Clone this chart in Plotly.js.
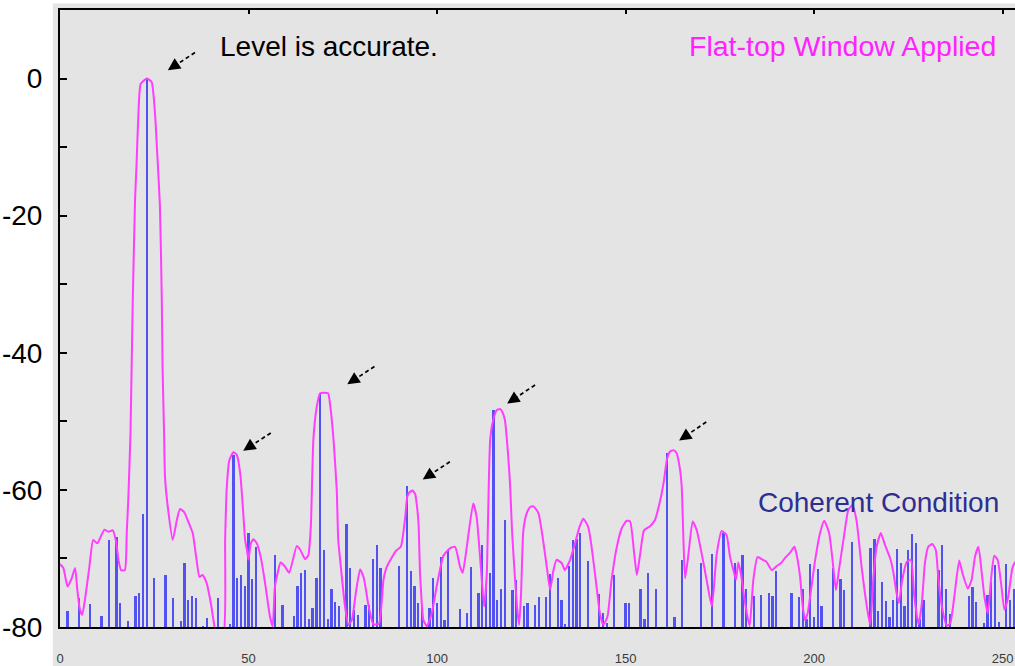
<!DOCTYPE html>
<html>
<head>
<meta charset="utf-8">
<script src="https://cdn.plot.ly/plotly-3.0.1.min.js"></script>
<style>html,body{margin:0;padding:0;background:#fff;}#chart{width:1015px;height:666px;}</style>
</head>
<body>
<div id="chart"></div>
<script>
// Coherent-condition spectrum: FFT bin index and level (dB)
const barBins = [2,5,8,11,13,15,16,18,20,21,22,23,25,28,30,32,33,34,35,36,38,39,42,45,46,47,48,49,50,51,52,57,
  59,62,63,64,65,66,67,68,69,70,71,72,73,74,76,77,78,79,81,82,83,84,85,90,92,93,94,95,96,98,99,100,101,102,103,
  106,108,109,111,112,113,114,115,116,117,118,120,121,123,124,126,127,129,130,132,133,134,135,136,137,138,140,
  143,144,145,147,150,151,154,155,156,158,161,163,165,170,173,176,179,181,182,184,186,188,189,190,194,196,197,
  198,199,200,201,202,205,207,208,210,215,216,217,218,219,220,221,222,223,224,225,226,227,228,229,233,234,235,
  236,241,242,243,245,246,247,248,249,251,252,253];
const barLevels = [-77.6,-75.8,-76.7,-78.4,-67.3,-66.9,-76.5,-79.1,-75.5,-75.1,-63.5,0,-72.8,-72.4,-75.8,-79.1,-70.6,-76.1,-75.5,-75.8,-79.8,-78.7,-75.7,-79.6,-54.9,-72.9,-72.4,-74.0,-66.3,-73.0,-68.4,-69.5,
  -76.8,-78.4,-74.0,-72.1,-71.7,-78.9,-77.3,-72.8,-45.9,-68.8,-78.9,-74.4,-76.3,-76.9,-65.0,-71.4,-77.5,-78.2,-76.8,-76.8,-70.1,-68.1,-71.4,-71.1,-59.5,-71.8,-74.0,-76.5,-77.0,-77.3,-72.8,-76.5,-69.8,-79.0,-68.7,
  -77.4,-77.9,-71.2,-75.1,-68.0,-73.9,-72.1,-48.3,-76.1,-74.4,-64.4,-74.6,-73.2,-76.9,-76.5,-76.8,-75.6,-75.6,-72.2,-72.8,-76.1,-79.6,-71.1,-67.3,-67.2,-66.3,-70.3,
  -75.2,-78.0,-79.4,-72.4,-76.5,-76.5,-74.5,-78.9,-72.1,-74.4,-54.6,-78.5,-70.2,-70.7,-69.4,-66.3,-70.7,-69.5,-74.4,-75.5,-75.3,-75.1,-75.5,-71.9,-75.1,-75.6,-74.4,
  -78.9,-70.8,-78.6,-71.6,-76.9,-71.4,-73.0,-74.6,-67.6,-68.5,-67.2,-77.6,-73.4,-76.2,-78.6,-76.1,-68.6,-70.7,-77.0,-68.8,-66.4,-67.8,-78.9,-76.1,-71.7,-68.0,-74.4,
  -78.1,-75.5,-74.1,-76.3,-79.4,-75.3,-73.4,-71.0,-79.2,-70.8,-76.0,-74.5];

// Flat-top window spectrum
const curveX = [0.0,0.9,2.0,3.1,4.0,4.6,5.3,5.9,6.6,7.8,8.8,9.9,10.9,11.8,12.8,14.0,14.9,15.5,16.2,17.2,17.7,18.1,18.7,19.0,19.3,19.9,20.3,20.8,21.4,23.0,24.3,25.2,25.7,26.5,27.0,27.2,27.6,27.85,
  28.7,29.9,31.0,31.8,32.9,34.0,35.2,36.1,37.0,37.8,38.9,40.0,40.9,41.4,43.3,43.8,44.2,44.9,46.0,46.9,47.8,48.5,49.1,49.5,50.0,50.6,51.3,52.2,53.2,54.4,55.7,56.4,57.0,57.7,58.5,59.7,60.8,
  62.8,63.8,65.0,65.9,66.3,66.6,67.2,68.1,69.0,71.1,71.6,72.5,73.4,73.8,74.3,75.6,76.5,77.4,78.5,79.6,80.6,81.8,83.1,84.6,85.8,86.7,89.1,90.4,91.5,92.1,92.6,93.5,94.2,94.6,95.1,95.5,96.4,97.3,
  98.6,99.9,101.7,103.5,104.8,106.1,106.8,107.9,109.6,110.5,111.4,112.5,113.2,113.5,114.1,114.9,115.8,116.7,117.3,118.0,118.9,119.4,119.9,120.7,121.3,121.8,122.3,122.9,123.8,124.7,125.6,126.9,
  128.2,129.1,130.0,130.9,131.7,133.1,133.9,135.3,136.6,137.8,138.8,140.1,141.0,142.2,143.2,144.1,145.2,146.3,147.7,149.0,150.3,151.2,152.3,153.0,153.9,154.9,156.5,157.8,159.2,160.2,161.0,161.8,
  162.7,163.5,164.3,164.9,165.3,165.8,166.7,167.8,168.9,170.2,171.5,172.9,174.2,175.5,176.8,177.7,178.6,179.3,179.9,180.6,181.7,182.9,183.9,185.0,186.4,187.4,188.8,190.1,191.2,192.5,193.6,194.8,
  195.4,196.3,196.9,197.6,198.3,199.2,200.3,201.6,202.7,204.0,204.9,205.8,206.6,207.8,209.1,210.2,211.3,212.6,214.0,214.9,215.7,216.6,217.7,218.8,220.2,221.0,221.9,222.5,223.4,224.6,225.7,226.6,
  227.7,228.6,229.4,230.3,231.4,232.3,233.0,233.9,235.2,236.1,237.2,238.5,239.4,240.8,241.8,242.7,243.6,244.5,245.2,246.1,247.0,247.8,248.7,249.6,250.5,251.5,252.6,253.3];
const curveLevels = [-70.8,-71.4,-74.1,-72.9,-71.4,-74.6,-77.5,-78.2,-76.1,-71.2,-67.3,-67.8,-66.7,-65.8,-66.1,-65.9,-67.6,-70.2,-71.7,-71.7,-66.3,-61.5,-51.7,-42.0,-32.3,-17.8,-12.5,-5.1,-0.8,0,-0.5,-5.1,-10.0,-18.5,-32.3,-42.0,-51.7,-58.1,
  -63.0,-67.3,-64.4,-62.8,-63.2,-64.6,-66.3,-69.7,-72.7,-72.4,-73.6,-76.5,-79.7,-81,-81,-67.3,-60.0,-55.7,-54.5,-54.9,-57.6,-62.5,-67.3,-68.5,-70.2,-67.8,-67.2,-67.8,-69.7,-73.6,-78.5,-79.9,-74.1,-72.2,-70.6,-71.2,-72.1,
  -68.2,-68.8,-70.1,-69.5,-67.3,-64.4,-52.7,-47.9,-45.9,-45.9,-47.4,-52.3,-60.0,-67.3,-70.2,-77.0,-79.7,-79.0,-74.9,-71.6,-72.9,-76.8,-79.6,-79.5,-73.1,-71.2,-68.9,-68.3,-64.3,-61.0,-60.4,-60.1,-60.6,-62.0,-64.9,-72.2,-79.0,-79.9,
  -78.0,-74.1,-69.6,-68.5,-68.3,-71.2,-72.1,-68.3,-62.0,-63.9,-69.7,-77.0,-72.2,-65.0,-52.7,-49.8,-48.4,-48.2,-48.6,-49.8,-55.2,-59.5,-66.0,-73.1,-77.5,-79.7,-75.0,-65.9,-63.4,-62.5,-62.4,-63.4,
  -67.6,-71.2,-74.6,-71.7,-70.2,-70.7,-71.7,-70.2,-67.8,-65.4,-64.2,-65.4,-68.3,-73.6,-78.0,-79.7,-78.5,-73.1,-68.3,-65.6,-64.5,-64.6,-69.3,-72.4,-69.3,-65.9,-65.3,-64.4,-61.5,-58.6,-55.5,-54.4,
  -54.2,-54.6,-56.5,-59.5,-66.3,-72.9,-69.3,-64.6,-65.9,-69.3,-73.1,-77.0,-69.3,-66.0,-66.6,-69.7,-71.7,-73.1,-70.6,-72.2,-76.5,-79.9,-73.1,-69.8,-70.2,-70.5,-71.7,-71.1,-70.7,-69.8,-69.2,-68.3,
  -69.5,-72.7,-76.5,-79.0,-78.0,-74.6,-70.2,-66.3,-64.5,-66.3,-70.2,-74.6,-71.7,-67.3,-62.9,-62.2,-64.6,-71.2,-77.0,-79.7,-73.1,-68.3,-66.3,-68.0,-70.0,-71.9,-75.1,-76.5,-73.1,-70.5,-70.2,-75.6,
  -79.6,-76.5,-70.7,-68.3,-67.9,-68.8,-73.1,-77.0,-79.8,-79.5,-75.6,-70.3,-72.2,-74.4,-73.1,-69.7,-68.3,-72.2,-75.6,-78.0,-72.7,-69.6,-70.2,-73.6,-77.5,-75.6,-71.4,-70.5];

const yTickVals = [-80,-70,-60,-50,-40,-30,-20,-10,0];
const yTickText = ['-80','','-60','','-40','','-20','','0'];
const xTickVals = [0,50,100,150,200,250];
const xTickText = ['0','50','100','150','200','250'];

// Arrow annotations (head / tail in data units)
const arrowHeadX = [28.6,48.6,76.2,96.2,118.6,164.2];
const arrowHeadY = [1.2,-54.3,-44.6,-58.5,-47.4,-52.8];
const arrowTailX = [35.8,55.9,83.4,103.4,126.0,171.4];
const arrowTailY = [3.8,-51.7,-42.0,-55.9,-44.7,-50.1];

const FLOOR = -80;
const bg = '#e4e4e4';
const FONT = 'Liberation Sans, Arial, sans-serif';

const traces = [
  {
    type: 'bar',
    x: barBins,
    y: barLevels.map(v => v - FLOOR),
    base: FLOOR,
    width: 0.6,
    marker: {color: '#5252f0', line: {width: 0}},
    hoverinfo: 'skip',
    showlegend: false
  },
  {
    type: 'scatter',
    mode: 'lines',
    x: curveX,
    y: curveLevels,
    line: {color: '#ff3cff', width: 2, shape: 'spline', smoothing: 0.5},
    hoverinfo: 'skip',
    showlegend: false
  }
];

const shapes = [
  {type: 'rect', xref: 'paper', yref: 'paper', x0: -0.0075, x1: 1.01, y0: -0.07, y1: 1.0105,
   fillcolor: bg, line: {width: 0}, layer: 'below'}
];
const annotations = [];
for (let i = 0; i < arrowHeadX.length; i++) {
  shapes.push({type: 'line', xref: 'x', yref: 'y', x0: arrowTailX[i], y0: arrowTailY[i],
    x1: arrowHeadX[i] + (arrowTailX[i] - arrowHeadX[i]) * 0.3, y1: arrowHeadY[i] + (arrowTailY[i] - arrowHeadY[i]) * 0.3,
    line: {color: '#000', width: 1.7, dash: '4px,3px'}});
  annotations.push({x: arrowHeadX[i], y: arrowHeadY[i], xref: 'x', yref: 'y', text: '',
    showarrow: true, arrowhead: 2, arrowsize: 1.45, arrowwidth: 1.7, arrowcolor: '#000',
    ax: 10, ay: -6.7, standoff: 0});
}
annotations.push(
  {x: 41.9, y: 4.7, xref: 'x', yref: 'y', text: 'Level is accurate.', showarrow: false,
   xanchor: 'left', yanchor: 'middle', font: {family: FONT, size: 28, color: '#000'}},
  {x: 248.8, y: 4.7, xref: 'x', yref: 'y', text: 'Flat-top Window Applied', showarrow: false,
   xanchor: 'right', yanchor: 'middle', font: {family: FONT, size: 28.5, color: '#ff22ff'}},
  {x: 184.6, y: -61.9, xref: 'x', yref: 'y', text: 'Coherent Condition', showarrow: false,
   xanchor: 'left', yanchor: 'middle', font: {family: FONT, size: 28, color: '#2e2e92'}}
);

const layout = {
  width: 1015, height: 666,
  margin: {l: 60, r: 0, t: 9.5, b: 39, pad: 0},
  paper_bgcolor: '#ffffff',
  plot_bgcolor: bg,
  bargap: 0,
  xaxis: {
    range: [0, 253.3], showgrid: false, zeroline: false,
    showline: true, linecolor: '#000', linewidth: 2,
    tickmode: 'array', tickvals: xTickVals, ticktext: xTickText, ticks: '',
    ticklabelstandoff: 18,
    tickfont: {family: FONT, size: 13, color: '#3a3a3a'},
    fixedrange: true
  },
  xaxis2: {
    overlaying: 'x', side: 'top', matches: 'x', range: [0, 253.3],
    showgrid: false, zeroline: false, showline: true, linecolor: '#000', linewidth: 2,
    tickmode: 'array', tickvals: xTickVals, ticks: 'inside', ticklen: 4, tickwidth: 2, tickcolor: '#000',
    showticklabels: false
  },
  yaxis: {
    range: [-80, 10], showgrid: false, zeroline: false,
    showline: true, linecolor: '#000', linewidth: 2,
    tickmode: 'array', tickvals: yTickVals, ticktext: yTickText,
    ticks: 'inside', ticklen: 7, tickwidth: 2, tickcolor: '#000',
    ticklabelstandoff: 10,
    tickfont: {family: FONT, size: 28, color: '#000'},
    fixedrange: true
  },
  shapes: shapes,
  annotations: annotations
};

// invisible point to activate the top (mirror) axis
traces.push({type: 'scatter', x: [0], y: [-200], xaxis: 'x2', mode: 'markers', marker: {opacity: 0}, hoverinfo: 'skip', showlegend: false});

Plotly.newPlot('chart', traces, layout, {displayModeBar: false, staticPlot: true});
</script>
</body>
</html>
